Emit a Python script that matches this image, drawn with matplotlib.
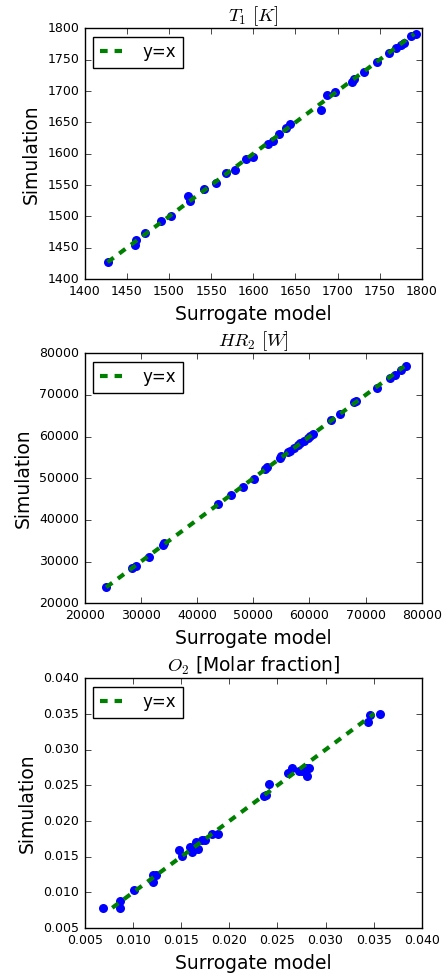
import matplotlib
matplotlib.use('Agg')
import matplotlib.pyplot as plt

plt.style.use('classic')
plt.rcParams['mathtext.fontset'] = 'cm'
plt.rcParams['font.family'] = ['DejaVu Sans']

# T1 [K]: surrogate model vs simulation
t1_sur = [1427, 1459, 1461, 1472, 1491, 1502, 1522, 1525, 1541, 1556, 1568, 1578,
          1591, 1600, 1617, 1623, 1630, 1639, 1644, 1680, 1687, 1697, 1717, 1719,
          1731, 1747, 1761, 1769, 1775, 1779, 1787, 1793]
t1_sim = [1427, 1455, 1462, 1473, 1492, 1500, 1532, 1525, 1544, 1553, 1569, 1574,
          1591, 1595, 1615, 1621, 1631, 1641, 1647, 1670, 1693, 1698, 1715, 1719,
          1730, 1747, 1761, 1768, 1774, 1777, 1787, 1791]

# HR2 [W]
hr_sur = [23700, 28360, 29070, 31440, 33930, 34170, 43770, 46020, 48100, 50110,
          52130, 52420, 54680, 54920, 56220, 56570, 57170, 58000, 58350, 58950,
          59720, 60130, 60610, 63870, 65410, 67840, 68200, 71990, 74360, 75190,
          76320, 77200]
hr_sim = [23800, 28530, 29000, 31170, 34060, 34380, 43840, 45920, 48000, 49930,
          52170, 52650, 54900, 55230, 56270, 56590, 57230, 58030, 58350, 58830,
          59630, 60030, 60520, 63970, 65410, 68210, 68530, 71660, 74070, 74870,
          75910, 76870]

# O2 [molar fraction]
o2_sur = [0.00687, 0.00863, 0.00870, 0.01008, 0.01209, 0.01209, 0.01244, 0.01479,
          0.01513, 0.01590, 0.01614, 0.01652, 0.01676, 0.01721, 0.01752, 0.01821,
          0.01880, 0.02357, 0.02378, 0.02413, 0.02613, 0.02651, 0.02724, 0.02755,
          0.02807, 0.02828, 0.02800, 0.03440, 0.03457, 0.03571]
o2_sim = [0.00785, 0.00785, 0.00883, 0.01037, 0.01144, 0.01242, 0.01242, 0.01601,
          0.01517, 0.01634, 0.01564, 0.01704, 0.01606, 0.01737, 0.01733, 0.01816,
          0.01820, 0.02357, 0.02367, 0.02521, 0.02675, 0.02750, 0.02708, 0.02708,
          0.02628, 0.02750, 0.02740, 0.03393, 0.03486, 0.03505]

panels = [
    (t1_sur, t1_sim, r'$T_1\ [K]$', (1400, 1800)),
    (hr_sur, hr_sim, r'$HR_2\ [W]$', (20000, 80000)),
    (o2_sur, o2_sim, r'$O_2$ [Molar fraction]', (0.005, 0.040)),
]

fig = plt.figure(figsize=(4.44, 9.76), dpi=100, facecolor='white')
boxes = [[0.191, 0.714, 0.759, 0.257],
         [0.191, 0.382, 0.759, 0.256],
         [0.191, 0.049, 0.759, 0.256]]

for (sur, sim, title, lim), box in zip(panels, boxes):
    ax = fig.add_axes(box)
    ax.plot(sur, sim, 'o', color='b', mec='none', ms=6.5)
    # y=x reference line over the range of simulated values
    lo, hi = min(sim), max(sim)
    ax.plot([lo, hi], [lo, hi], color='g', ls='--', dashes=(5.5, 5), lw=3,
            label='y=x')
    ax.set_xlim(lim)
    ax.set_ylim(lim)
    ax.set_title(title, fontsize=13.5)
    ax.set_xlabel('Surrogate model', fontsize=13.5)
    ax.set_ylabel('Simulation', fontsize=13.5)
    ax.tick_params(labelsize=9)
    ax.legend(loc='upper left', fontsize=12, numpoints=1, handlelength=1.33,
              handletextpad=1.25)

fig.savefig('out.png', dpi=100, facecolor='white')
